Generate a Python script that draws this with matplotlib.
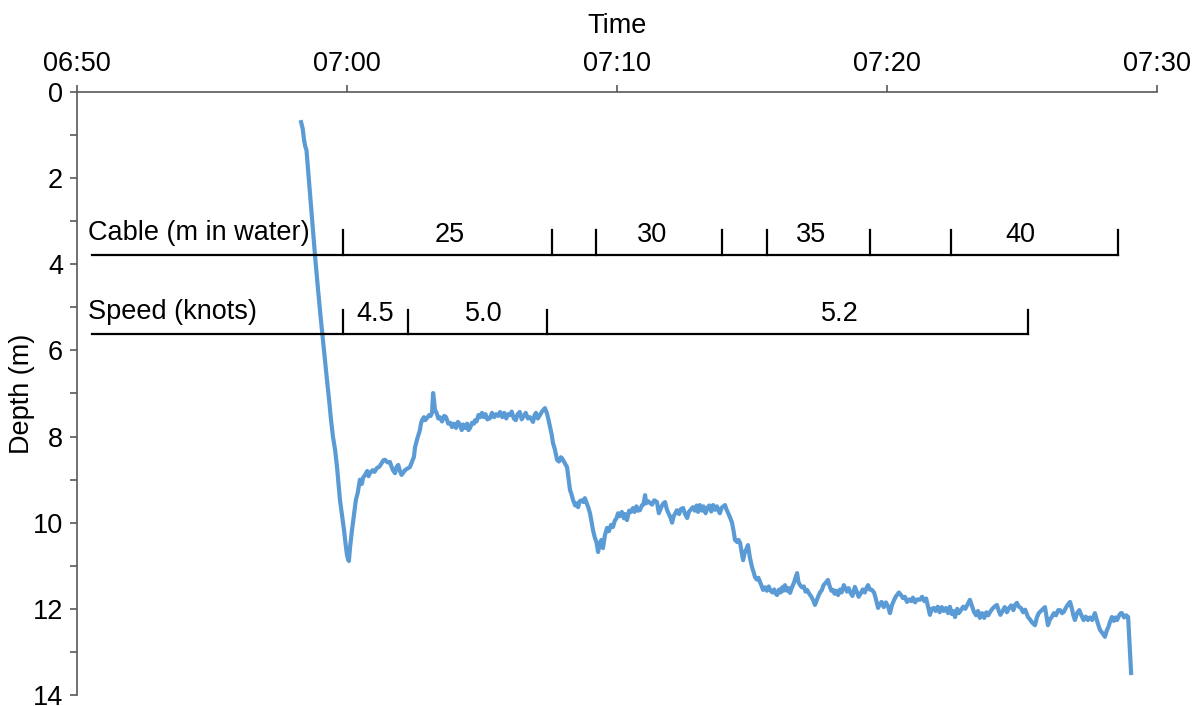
import matplotlib
matplotlib.use("Agg")
import matplotlib.pyplot as plt
from matplotlib.ticker import MultipleLocator

plt.rcParams['font.family'] = ['Liberation Sans', 'DejaVu Sans']

# Data (time in minutes after 06:50, depth in m)
time_min = [
    8.30, 8.36, 8.41, 8.45, 8.50, 8.56, 8.65, 8.74, 8.83, 8.93, 9.02, 9.11, 9.18, 9.26, 9.33, 9.41,
    9.48, 9.56, 9.63, 9.70, 9.74, 9.81, 9.89, 9.95, 10.00, 10.04, 10.07, 10.11, 10.18, 10.26, 10.33,
    10.40, 10.48, 10.55, 10.60, 10.67, 10.75, 10.80, 10.85, 10.95, 11.02, 11.11, 11.20, 11.28, 11.35,
    11.41, 11.50, 11.59, 11.65, 11.72, 11.78, 11.84, 11.90, 11.96, 12.02, 12.07, 12.15, 12.22, 12.33,
    12.40, 12.48, 12.52, 12.59, 12.65, 12.70, 12.74, 12.78, 12.85, 12.90, 12.96, 13.05, 13.10, 13.15,
    13.19, 13.23, 13.26, 13.32, 13.38, 13.44, 13.52, 13.60, 13.67, 13.75, 13.82, 13.89, 13.96, 14.04,
    14.11, 14.19, 14.25, 14.30, 14.38, 14.45, 14.50, 14.56, 14.63, 14.70, 14.74, 14.80, 14.87, 14.93,
    15.00, 15.07, 15.13, 15.20, 15.30, 15.37, 15.45, 15.52, 15.60, 15.67, 15.75, 15.82, 15.90, 15.96,
    16.04, 16.10, 16.18, 16.25, 16.32, 16.40, 16.47, 16.55, 16.62, 16.70, 16.78, 16.89, 16.95, 17.00,
    17.07, 17.15, 17.22, 17.33, 17.40, 17.46, 17.52, 17.58, 17.63, 17.70, 17.78, 17.85, 17.92, 17.96,
    18.05, 18.15, 18.20, 18.26, 18.32, 18.37, 18.45, 18.50, 18.56, 18.62, 18.70, 18.75, 18.81, 18.88,
    18.94, 19.00, 19.05, 19.11, 19.18, 19.24, 19.30, 19.36, 19.42, 19.48, 19.55, 19.63, 19.70, 19.78,
    19.85, 19.92, 19.98, 20.04, 20.10, 20.18, 20.26, 20.30, 20.37, 20.45, 20.52, 20.59, 20.65, 20.72,
    20.78, 20.85, 20.92, 20.98, 21.04, 21.08, 21.15, 21.22, 21.30, 21.38, 21.48, 21.55, 21.60, 21.67,
    21.72, 21.78, 21.85, 21.92, 21.98, 22.04, 22.10, 22.16, 22.22, 22.30, 22.37, 22.45, 22.52, 22.60,
    22.66, 22.73, 22.81, 22.88, 22.95, 23.00, 23.07, 23.14, 23.20, 23.28, 23.35, 23.42, 23.49, 23.56,
    23.63, 23.70, 23.76, 23.81, 23.88, 23.94, 24.00, 24.06, 24.12, 24.20, 24.26, 24.32, 24.37, 24.45,
    24.50, 24.56, 24.62, 24.67, 24.73, 24.80, 24.85, 24.92, 25.00, 25.06, 25.11, 25.18, 25.24, 25.30,
    25.36, 25.41, 25.48, 25.55, 25.62, 25.67, 25.75, 25.82, 25.88, 25.93, 26.00, 26.06, 26.12, 26.17,
    26.22, 26.30, 26.36, 26.41, 26.48, 26.55, 26.60, 26.67, 26.72, 26.78, 26.85, 26.92, 26.98, 27.04,
    27.12, 27.20, 27.28, 27.33, 27.40, 27.46, 27.52, 27.59, 27.65, 27.72, 27.78, 27.81, 27.88, 27.94,
    28.00, 28.06, 28.12, 28.19, 28.26, 28.32, 28.40, 28.46, 28.52, 28.58, 28.65, 28.72, 28.81, 28.88,
    28.95, 29.02, 29.10, 29.18, 29.25, 29.30, 29.36, 29.44, 29.52, 29.60, 29.67, 29.73, 29.80, 29.88,
    29.96, 30.04, 30.11, 30.18, 30.26, 30.32, 30.37, 30.44, 30.52, 30.59, 30.66, 30.74, 30.82, 30.90,
    30.96, 31.04, 31.12, 31.22, 31.30, 31.38, 31.45, 31.52, 31.59, 31.66, 31.74, 31.80, 31.88, 31.95,
    32.03, 32.10, 32.18, 32.26, 32.33, 32.40, 32.46, 32.52, 32.60, 32.66, 32.74, 32.82, 32.90, 32.98,
    33.07, 33.14, 33.22, 33.30, 33.37, 33.44, 33.52, 33.60, 33.68, 33.75, 33.82, 33.90, 33.98, 34.07,
    34.14, 34.20, 34.28, 34.36, 34.44, 34.52, 34.60, 34.68, 34.75, 34.81, 34.88, 34.96, 35.04, 35.12,
    35.22, 35.30, 35.38, 35.48, 35.55, 35.62, 35.70, 35.78, 35.85, 35.90, 35.96, 36.03, 36.10, 36.18,
    36.26, 36.34, 36.41, 36.48, 36.55, 36.62, 36.70, 36.78, 36.85, 36.90, 36.96, 37.04, 37.12, 37.20,
    37.28, 37.36, 37.44, 37.52, 37.60, 37.70, 37.78, 37.84, 37.89, 37.96, 38.02, 38.07, 38.14, 38.20,
    38.26, 38.33, 38.40, 38.46, 38.52, 38.60, 38.66, 38.70, 38.78, 38.86, 38.93, 39.04,
]
depth_m = [
    0.70, 0.85, 1.11, 1.25, 1.35, 1.81, 2.50, 3.20, 3.90, 4.60, 5.20, 5.76, 6.20, 6.69, 7.10, 7.62,
    8.00, 8.31, 8.70, 9.20, 9.47, 9.80, 10.17, 10.50, 10.75, 10.85, 10.89, 10.60, 10.20, 9.80, 9.47,
    9.30, 9.00, 9.10, 8.95, 8.89, 8.80, 8.92, 8.85, 8.78, 8.82, 8.73, 8.70, 8.62, 8.55,
    8.54, 8.60, 8.59, 8.70, 8.80, 8.85, 8.70, 8.66, 8.80, 8.89, 8.85, 8.78, 8.75, 8.71,
    8.60, 8.47, 8.25, 8.08, 7.95, 7.85, 7.70, 7.62, 7.55, 7.62, 7.57, 7.50, 7.52, 7.45,
    6.99, 7.20, 7.38, 7.45, 7.58, 7.55, 7.65, 7.52, 7.55, 7.70, 7.68, 7.78, 7.70, 7.80,
    7.66, 7.73, 7.85, 7.72, 7.80, 7.70, 7.85, 7.80, 7.68, 7.70, 7.62, 7.65, 7.50, 7.55,
    7.45, 7.55, 7.48, 7.60, 7.57, 7.45, 7.55, 7.48, 7.52, 7.43, 7.55, 7.45, 7.58, 7.48,
    7.50, 7.42, 7.58, 7.62, 7.48, 7.43, 7.60, 7.52, 7.45, 7.58, 7.55, 7.66, 7.50, 7.45,
    7.58, 7.50, 7.42, 7.34, 7.45, 7.60, 7.78, 7.95, 8.15, 8.30, 8.54, 8.58, 8.48, 8.50,
    8.60, 8.71, 8.95, 9.24, 9.35, 9.47, 9.60, 9.55, 9.64, 9.50, 9.48, 9.52, 9.43, 9.55,
    9.65, 9.78, 9.95, 10.17, 10.35, 10.45, 10.68, 10.50, 10.40, 10.59, 10.30, 10.12, 10.20, 10.05,
    10.10, 9.95, 9.90, 9.78, 9.85, 9.75, 9.90, 9.80, 9.94, 9.72, 9.75, 9.66, 9.75, 9.62,
    9.72, 9.71, 9.60, 9.58, 9.36, 9.55, 9.50, 9.54, 9.58, 9.48, 9.52, 9.78, 9.70, 9.60,
    9.55, 9.52, 9.70, 9.80, 9.88, 10.00, 9.85, 9.78, 9.71, 9.80, 9.68, 9.66, 9.80, 9.89,
    9.75, 9.70, 9.64, 9.72, 9.60, 9.75, 9.59, 9.72, 9.62, 9.78, 9.65, 9.60, 9.74, 9.59,
    9.70, 9.62, 9.72, 9.78, 9.65, 9.62, 9.59, 9.70, 9.78, 9.90, 10.00, 10.20, 10.40, 10.45,
    10.40, 10.47, 10.70, 10.87, 10.70, 10.60, 10.52, 10.80, 11.03, 11.15, 11.26, 11.32, 11.28, 11.38,
    11.48, 11.56, 11.50, 11.58, 11.48, 11.56, 11.62, 11.55, 11.65, 11.68, 11.55, 11.62, 11.50, 11.58,
    11.45, 11.58, 11.52, 11.63, 11.50, 11.40, 11.30, 11.17, 11.38, 11.45, 11.50, 11.48, 11.60, 11.56,
    11.65, 11.72, 11.82, 11.91, 11.80, 11.70, 11.62, 11.56, 11.45, 11.40, 11.36, 11.33, 11.48, 11.58,
    11.56, 11.65, 11.58, 11.68, 11.55, 11.62, 11.45, 11.52, 11.60, 11.52, 11.63, 11.70, 11.49, 11.60,
    11.72, 11.65, 11.55, 11.62, 11.50, 11.45, 11.55, 11.56, 11.62, 11.80, 11.98, 11.90, 11.84, 11.96,
    11.85, 11.95, 12.10, 11.92, 11.80, 11.72, 11.68, 11.62, 11.68, 11.75, 11.72, 11.84, 11.78, 11.82,
    11.74, 11.85, 11.78, 11.79, 11.72, 11.82, 11.76, 11.95, 12.14, 12.00, 11.98, 12.05, 11.95, 12.08,
    11.96, 12.05, 11.98, 12.10, 11.95, 12.12, 12.05, 12.19, 12.00, 12.10, 12.03, 11.95, 12.00, 11.90,
    11.79, 11.92, 12.07, 12.15, 12.05, 12.21, 12.10, 12.21, 12.08, 12.15, 12.07, 12.00, 11.95, 11.91,
    12.05, 12.14, 12.05, 11.96, 12.08, 11.98, 11.92, 12.03, 11.90, 11.86, 11.95, 11.98, 12.08, 12.02,
    12.19, 12.25, 12.32, 12.38, 12.20, 12.10, 12.05, 12.00, 11.96, 12.15, 12.38, 12.25, 12.19, 12.10,
    12.15, 12.03, 12.03, 12.10, 12.07, 11.98, 11.90, 11.84, 12.00, 12.15, 12.26, 12.10, 12.03, 12.15,
    12.26, 12.18, 12.26, 12.20, 12.26, 12.10, 12.28, 12.40, 12.49, 12.55, 12.60, 12.65, 12.50, 12.42,
    12.30, 12.19, 12.28, 12.20, 12.26, 12.15, 12.10, 12.10, 12.20, 12.15, 12.19, 13.49,
]

time_ticks = [0, 10, 20, 30, 40]
time_labels = ['06:50', '07:00', '07:10', '07:20', '07:30']

# cable paid out: segment boundaries (minutes) and labels
cable_marks = [9.85, 17.59, 19.22, 23.89, 25.56, 29.37, 32.37, 38.56]
cable_text = ['25', '30', '35', '40']
cable_text_t = [13.81, 21.30, 27.19, 34.93]

# boat speed: segment boundaries (minutes) and labels
speed_marks = [9.85, 12.26, 17.41, 35.22]
speed_text = ['4.5', '5.0', '5.2']
speed_text_t = [11.04, 15.07, 28.26]

fig = plt.figure(figsize=(11.97, 7.06), dpi=100)
ax = fig.add_axes([0.0643, 0.0156, 0.9023, 0.8541])

ax.plot(time_min, depth_m, color='#5b9bd5', linewidth=3.0, solid_joinstyle='round')

# cable bar
fs = 19.5
bar_start = 0.56
ax.plot([bar_start, cable_marks[-1]], [3.78, 3.78], color='black', linewidth=1.6)
for t in cable_marks:
    ax.plot([t, t], [3.78, 3.2], color='black', linewidth=1.6)
for t, s in zip(cable_text_t, cable_text):
    ax.text(t, 3.48, s, ha='center', va='baseline', fontsize=fs)
ax.text(0.41, 3.44, 'Cable (m in water)', ha='left', va='baseline', fontsize=fs)

# speed bar
ax.plot([bar_start, speed_marks[-1]], [5.62, 5.62], color='black', linewidth=1.6)
for t in speed_marks:
    ax.plot([t, t], [5.62, 5.06], color='black', linewidth=1.6)
for t, s in zip(speed_text_t, speed_text):
    ax.text(t, 5.32, s, ha='center', va='baseline', fontsize=fs)
ax.text(0.41, 5.27, 'Speed (knots)', ha='left', va='baseline', fontsize=fs)

# axes
ax.set_xlim(0, 40)
ax.set_ylim(14, 0)
ax.xaxis.tick_top()
ax.xaxis.set_label_position('top')
ax.set_xticks(time_ticks)
ax.set_xticklabels(time_labels)
ax.yaxis.set_major_locator(MultipleLocator(2))
ax.yaxis.set_minor_locator(MultipleLocator(1))
ax.set_xlabel('Time', fontsize=fs, labelpad=13)
ax.set_ylabel('Depth (m)', fontsize=fs, labelpad=-2)

ax.spines['right'].set_visible(False)
ax.spines['bottom'].set_visible(False)
for side in ['top', 'left']:
    ax.spines[side].set_color('#595959')
    ax.spines[side].set_linewidth(1.2)
ax.tick_params(axis='both', which='both', direction='out', color='#595959',
               width=1.2, labelsize=fs, length=5)
ax.tick_params(axis='x', pad=6)
ax.tick_params(axis='y', pad=5)

fig.savefig('out.png', dpi=100)
